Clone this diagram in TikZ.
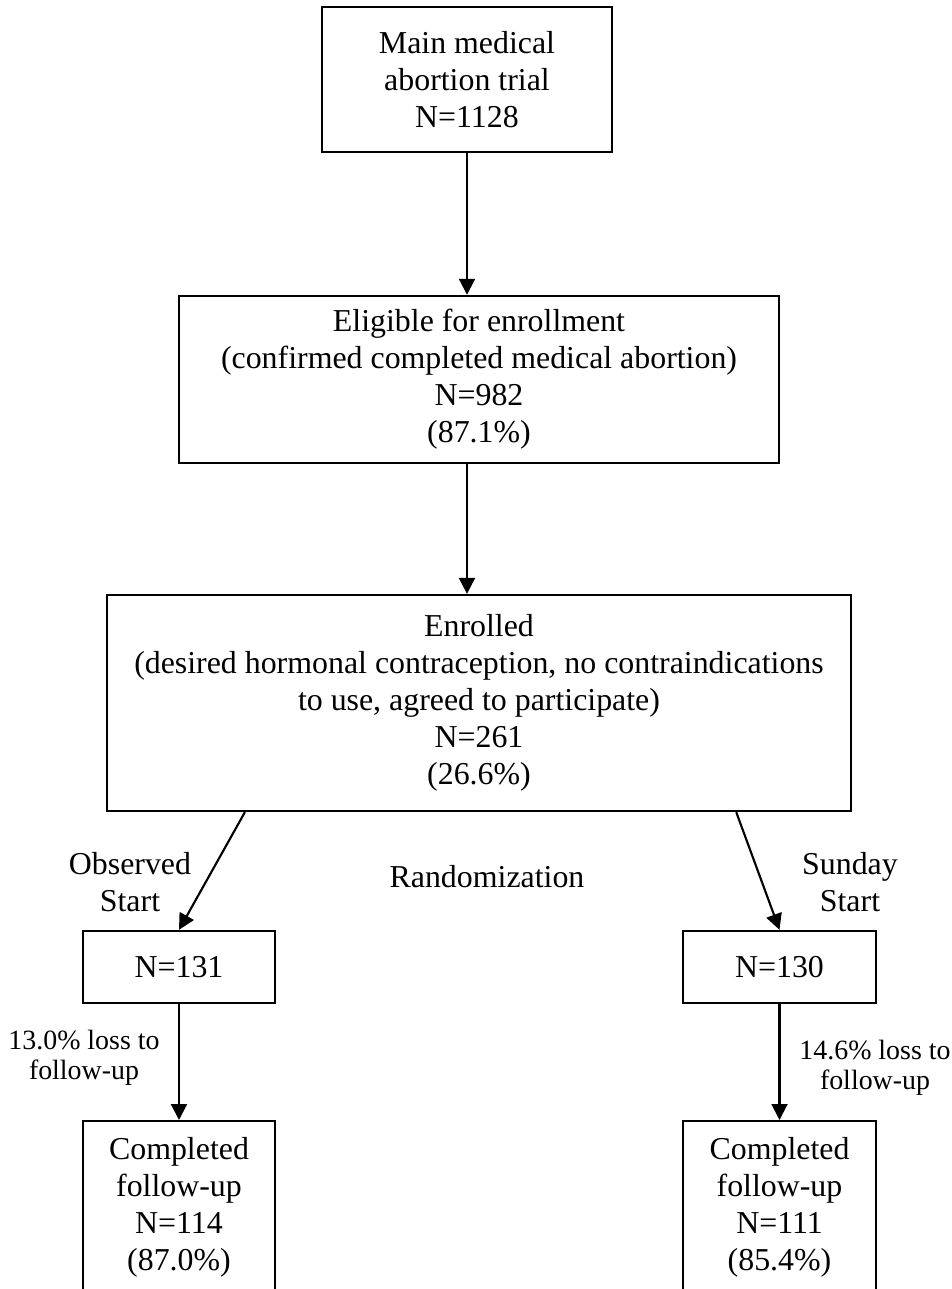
\documentclass[tikz,border=0pt]{standalone}
\usepackage{fontspec}
\setmainfont{Liberation Serif}
\usepackage{tikz}
\usetikzlibrary{arrows.meta}

\begin{document}
\begin{tikzpicture}[x=0.3765pt, y=-0.3765pt, font=\fontsize{12}{13.9}\selectfont]
	\useasboundingbox (0,0) rectangle (951,1289);
	\clip (0,0) rectangle (951,1289);

	\begin{scope}[every node/.style={draw, line width=0.9pt, inner sep=0pt, align=center}]
\node[minimum width=109.2pt, minimum height=54.6pt] (trial) at (467,79.5) {Main medical \\ abortion trial \\ N=1128};
\node[minimum width=225.9pt, minimum height=62.9pt] (eligible) at (479,379.5) {Eligible for enrollment \\ (confirmed completed medical abortion) \\ N=982 \\ (87.1\%)};
\node[minimum width=280.1pt, minimum height=81.3pt] (enrolled) at (479,703) {Enrolled \\ (desired hormonal contraception, no contraindications \\ to use, agreed to participate) \\ N=261 \\ (26.6\%)};
\node[minimum width=72.3pt, minimum height=27.1pt] (observed) at (179,967) {N=131};
\node[minimum width=72.7pt, minimum height=27.1pt] (sunday) at (779.5,967) {N=130};
\node[minimum width=72.3pt, minimum height=65pt] (obsdone) at (179,1207.5) {Completed \\ follow-up \\ N=114 \\ (87.0\%)};
\node[minimum width=72.7pt, minimum height=65pt] (sundone) at (779.5,1207.5) {Completed \\ follow-up \\ N=111 \\ (85.4\%)};
	\end{scope}

	\node[align=center] (obslabel) at (130,882) {Observed \\ Start};
	\node (random) at (487,877) {Randomization};
	\node[align=center] (sunlabel) at (850,882) {Sunday \\ Start};
	\node[align=center, font=\fontsize{10.5}{11.5}\selectfont] (obsloss) at (84,1058) {13.0\% loss to \\ follow-up};
	\node[align=center, font=\fontsize{10.5}{11.5}\selectfont] (sunloss) at (875,1068) {14.6\% loss to \\ follow-up};

	\begin{scope}[every path/.style={-{Triangle[length=6pt, width=6pt]}, line width=0.8pt, draw}]
		\draw (trial.south) -- (trial.south |- eligible.north);
		\draw (trial.south |- eligible.south) -- (trial.south |- enrolled.north);
		\draw (enrolled.205.35) -- (observed.north);
		\draw (enrolled.-23.1) -- (sunday.north);
		\draw (observed.south) -- (obsdone.north);
		\draw (sunday.south) -- (sundone.north);
	\end{scope}

\end{tikzpicture}
\end{document}
